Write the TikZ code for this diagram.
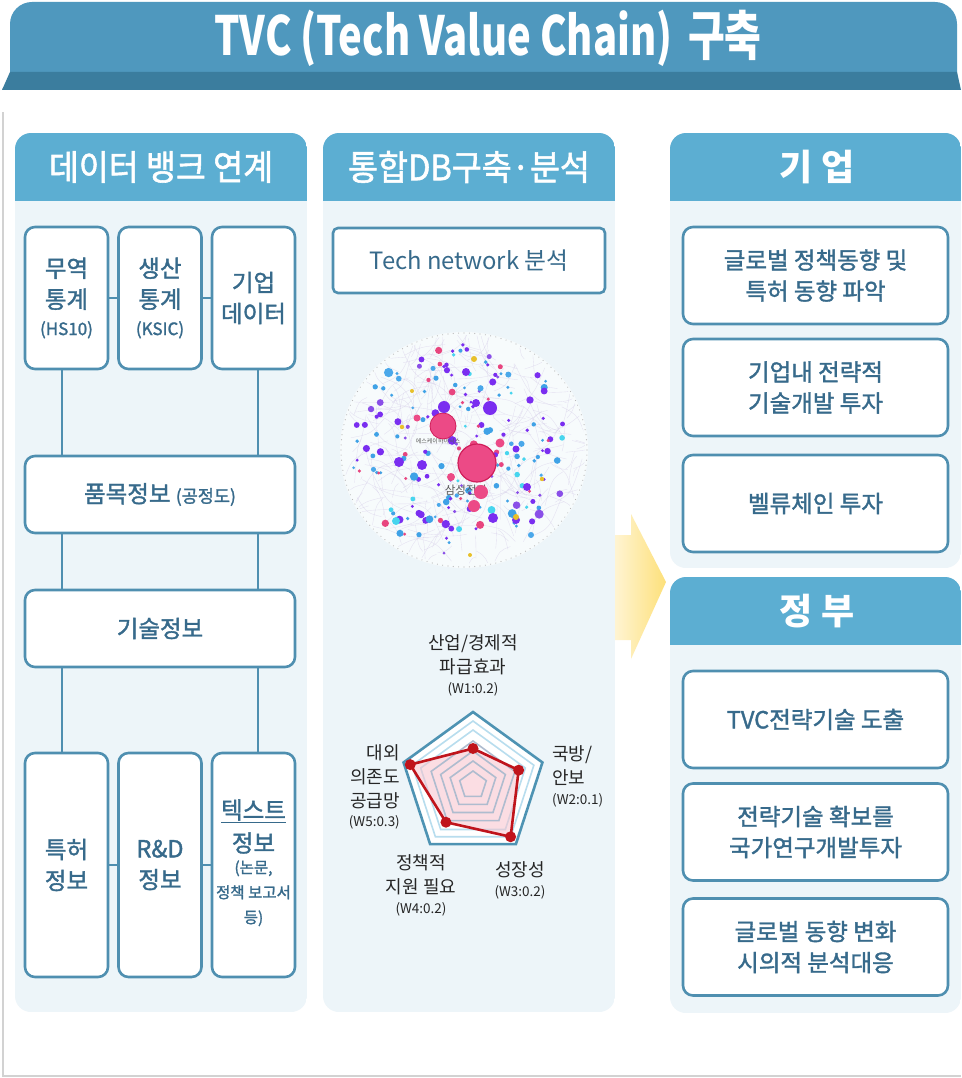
\documentclass[tikz,border=0pt]{standalone}
\usepackage{fontspec}
\setmainfont{Noto Sans CJK KR}
\newfontfamily\krm{Noto Sans CJK KR}[FakeBold=1.5]
\newfontfamily\krh{Noto Sans CJK KR}[FakeStretch=0.93,FakeBold=1.6]
\newcommand\wlabf{\fontsize{13.5}{16}\selectfont}
\usetikzlibrary{calc}
\definecolor{titlet}{HTML}{4F98BE}
\definecolor{titleb}{HTML}{3B7D9E}
\definecolor{headc}{HTML}{5CAED2}
\definecolor{bodyc}{HTML}{EDF5F9}
\definecolor{boxc}{HTML}{4F8FB0}
\definecolor{txtc}{HTML}{376A8B}
\definecolor{framec}{HTML}{D2D2D2}
\definecolor{arrowL}{HTML}{FFF4D2}
\definecolor{arrowR}{HTML}{FDE07A}
\definecolor{radarO}{HTML}{4E93B3}
\definecolor{radarL}{HTML}{B8DDEE}
\definecolor{radarG}{HTML}{AFBCCF}
\definecolor{redc}{HTML}{C0141C}
\definecolor{pinkf}{HTML}{F8C2CC}
\definecolor{edgec}{HTML}{D6CFEA}
\definecolor{nc0}{HTML}{7A2EF0}
\definecolor{nc1}{HTML}{7A2EF0}
\definecolor{nc2}{HTML}{3FA2E6}
\definecolor{nc3}{HTML}{3FA2E6}
\definecolor{nc4}{HTML}{4AA8EA}
\definecolor{nc5}{HTML}{47D5EE}
\definecolor{nc6}{HTML}{E8457F}
\definecolor{nc7}{HTML}{8A4FE8}
\definecolor{nc8}{HTML}{3FA2E6}
\definecolor{nc9}{HTML}{7A2EF0}
\definecolor{ncy}{HTML}{E8C02A}
\definecolor{pinkn}{HTML}{EC4A86}
\definecolor{pinkd}{HTML}{D01E5A}

\newcommand\pentpath[1]{({473+#1*cos(90)},{785-#1*sin(90)}) -- ({473+#1*cos(18)},{785-#1*sin(18)}) -- ({473+#1*cos(-54)},{785-#1*sin(-54)}) -- ({473+#1*cos(-126)},{785-#1*sin(-126)}) -- ({473+#1*cos(162)},{785-#1*sin(162)}) -- cycle}

\tikzset{
  box/.style={draw=boxc, line width=2.6pt, rounded corners=10pt, fill=white, align=center, text=txtc, inner sep=0pt, font=\krm\fontsize{23.5}{31}\selectfont},
  hdr/.style={text=white, inner sep=0pt, font=\krh\fontsize{35}{35}\selectfont},
  bighdr/.style={text=white, inner sep=0pt, font=\bfseries\fontsize{36}{36}\selectfont},
  conn/.style={draw=boxc, line width=2.6pt},
  rlab/.style={text=black!85, align=center, inner sep=0pt, font=\fontsize{18}{24}\selectfont},
  dot/.style={fill=redc, draw=none},
}

\begin{document}
\begin{tikzpicture}[x=1pt,y=-1pt]
\useasboundingbox (0,0) rectangle (961,1078);
\fill[white] (0,0) rectangle (961,1078);

% frame
\draw[framec, line width=1.5pt] (3,88) -- (3,1076) -- (961,1076);

% title bar
\fill[titlet, rounded corners=22pt] (10,2) rectangle (957,110);
\fill[white] (0,90) rectangle (961,112);
\fill[titleb] (2,90) -- (10,72) -- (957,72) -- (961,90) -- cycle;
\node[text=white, inner sep=0pt, font=\bfseries\fontsize{54}{54}\selectfont] (title) at (488,38) {\scalebox{0.74}[1]{TVC (Tech Value Chain) \,구축}};

% panels
\begin{scope}
\clip[rounded corners=16pt] (15,133) rectangle (307,1012);
\fill[bodyc] (15,133) rectangle (307,1012);
\fill[headc] (15,133) rectangle (307,201);
\end{scope}
\begin{scope}
\clip[rounded corners=16pt] (323,133) rectangle (615,1012);
\fill[bodyc] (323,133) rectangle (615,1012);
\fill[headc] (323,133) rectangle (615,201);
\end{scope}
\begin{scope}
\clip[rounded corners=16pt] (670,133) rectangle (961,568);
\fill[bodyc] (670,133) rectangle (961,568);
\fill[headc] (670,133) rectangle (961,201);
\end{scope}
\begin{scope}
\clip[rounded corners=16pt] (670,577) rectangle (961,1013);
\fill[bodyc] (670,577) rectangle (961,1013);
\fill[headc] (670,577) rectangle (961,645);
\end{scope}

% arrow
\shade[left color=arrowL, right color=arrowR] (615,535) -- (631,535) -- (631,514) -- (666,582) -- (631,659) -- (631,640) -- (615,640) -- cycle;

% headers
\node[hdr] (h1) at (161,167) {데이터 뱅크 연계};
\node[hdr] (h2) at (469,167) {통합DB구축·분석};
\node[bighdr] (h3) at (817,167) {기 업};
\node[bighdr] (h4) at (817,611) {정 부};

% left column boxes
\node[box, minimum width=83pt, minimum height=142pt] (m1) at (66.5,298) {무역\\통계\\[-4pt]{\fontsize{17}{20}\selectfont(HS10)}};
\node[box, minimum width=83pt, minimum height=142pt] (m2) at (160,298) {생산\\통계\\[-4pt]{\fontsize{17}{20}\selectfont(KSIC)}};
\node[box, minimum width=83pt, minimum height=142pt] (m3) at (253.5,298) {기업\\데이터};
\node[box, minimum width=270pt, minimum height=77pt] (p1) at (160,494.5) {품목정보 {\fontsize{17.5}{20}\selectfont(공정도)}};
\node[box, minimum width=270pt, minimum height=77pt] (p2) at (160,628.5) {기술정보};
\node[box, minimum width=83pt, minimum height=224pt] (b1) at (66.5,865) {특허\\정보};
\node[box, minimum width=83pt, minimum height=224pt] (b2) at (160,865) {R\&D\\정보};
\node[box, minimum width=83pt, minimum height=224pt] (b3) at (253.5,865) {\underline{텍스트}\\[2pt]정보\\[1pt]{\fontsize{15.5}{25}\selectfont\begin{tabular}{@{}c@{}}(논문,\\정책 보고서\\등)\end{tabular}}};

\draw[conn] (m1) -- (m2);
\draw[conn] (m2) -- (m3);
\draw[conn] (b1) -- (b2);
\draw[conn] (b2) -- (b3);
\draw[conn] ([xshift=-4.5pt]m1.south) -- ([xshift=-4.5pt]m1.south |- p1.north);
\draw[conn] ([xshift=4.5pt]m3.south) -- ([xshift=4.5pt]m3.south |- p1.north);
\draw[conn] ([xshift=-98pt]p1.south) -- ([xshift=-98pt]p2.north);
\draw[conn] ([xshift=98pt]p1.south) -- ([xshift=98pt]p2.north);
\draw[conn] ([xshift=-98pt]p2.south) -- ([xshift=-4.5pt]b1.north);
\draw[conn] ([xshift=98pt]p2.south) -- ([xshift=4.5pt]b3.north);

% middle column
\node[box, rounded corners=5pt, minimum width=272pt, minimum height=65pt, font=\fontsize{23.8}{26}\selectfont] (tn) at (469,260.5) {Tech network 분석};

% network graph
\fill[white, opacity=0.6] (464,450) ellipse [x radius=124, y radius=118];
\pgfmathsetseed{4321}
\begin{scope}
\clip (464,450) ellipse [x radius=121, y radius=115];
\foreach \i in {1,...,320}{
  \pgfmathsetmacro\aa{rnd*360}
  \pgfmathsetmacro\ra{sqrt(rnd)*115}
  \pgfmathsetmacro\dx{rnd*90-45}
  \pgfmathsetmacro\dy{rnd*90-45}
  \pgfmathsetmacro\xa{464+\ra*cos(\aa)}
  \pgfmathsetmacro\ya{450+0.95*\ra*sin(\aa)}
  \draw[edgec, line width=0.35pt, opacity=0.6] (\xa,\ya) .. controls ({\xa+\dx*0.6},{\ya+\dy*0.2}) .. ({\xa+\dx},{\ya+\dy});
}
\end{scope}
\foreach \a in {0,2.5,...,357.5}{
  \fill[gray!55] ({464+123*cos(\a)},{450+117*sin(\a)}) circle (0.6);
}
\foreach \i in {1,...,200}{
  \pgfmathsetmacro\aa{rnd*360}
  \pgfmathsetmacro\ra{sqrt(rnd)*112}
  \pgfmathtruncatemacro\ci{int(rnd*9.99)}
  \pgfmathsetmacro\sz{1.5+3.3*rnd*rnd}
  \fill[nc\ci] ({464+\ra*cos(\aa)},{450+0.95*\ra*sin(\aa)}) circle (\sz);
}
\fill[ncy] (402,427) circle (2.2);
\fill[ncy] (542,479) circle (2.2);
\fill[ncy] (412,391) circle (2);
\fill[ncy] (470,555) circle (2);
\node[text=gray!70!black, inner sep=0pt, font=\fontsize{6}{6}\selectfont] (lbl2) at (438,441) {에스케이하이닉스};
\node[text=gray!70!black, inner sep=0pt, font=\fontsize{11.5}{12}\selectfont] (lbl1) at (466,490) {삼성전자};
\fill[pinkn, draw=pinkd, line width=1.2pt] (477,463) circle (19);
\fill[pinkn, draw=pinkd, line width=0.8pt] (443,426) circle (13);
\fill[pinkn] (481,492) circle (7);
\fill[pinkn] (474,506) circle (6);
\fill[pinkn] (500,443) circle (4.5);
\fill[pinkn] (451,477) circle (4);
\fill[pinkn] (417,418) circle (3.5);
\fill[nc0] (490,408) circle (7);
\fill[nc0] (444,407) circle (6);
\fill[nc0] (399,462) circle (5);
\fill[nc0] (422,465) circle (5);
\fill[nc0] (493,518) circle (5);
\fill[nc0] (466,372) circle (4);
\fill[nc0] (476,403) circle (4);
\fill[nc0] (516,520) circle (4);
\fill[nc0] (527,487) circle (4);
\fill[nc0] (516,449) circle (3.5);
\fill[nc5] (396,521) circle (4);
\fill[ncy] (474,359) circle (3);
\fill[ncy] (516,517) circle (3);

% radar chart
\fill[white] \pentpath{73};
\draw[radarL, line width=1.6pt] \pentpath{64};
\draw[radarL, line width=1.6pt] \pentpath{55};
\fill[pinkf, opacity=0.55] ({473+36.5*cos(90)},{785-36.5*sin(90)}) -- ({473+48*cos(18)},{785-48*sin(18)}) -- ({473+64*cos(-54)},{785-64*sin(-54)}) -- ({473+46*cos(-126)},{785-46*sin(-126)}) -- ({473+66*cos(162)},{785-66*sin(162)}) -- cycle;
\draw[radarG, line width=1.6pt] \pentpath{44};
\draw[radarG, line width=1.6pt] \pentpath{34};
\draw[radarG, line width=1.6pt] \pentpath{24};
\draw[radarG, line width=1.6pt] \pentpath{14};
\draw[radarO, line width=2.6pt, line join=miter] \pentpath{73};
\draw[redc, line width=2.6pt, line join=round] ({473+36.5*cos(90)},{785-36.5*sin(90)}) -- ({473+48*cos(18)},{785-48*sin(18)}) -- ({473+64*cos(-54)},{785-64*sin(-54)}) -- ({473+46*cos(-126)},{785-46*sin(-126)}) -- ({473+66*cos(162)},{785-66*sin(162)}) -- cycle;
\fill[dot] ({473+36.5*cos(90)},{785-36.5*sin(90)}) circle (5.5);
\fill[dot] ({473+48*cos(18)},{785-48*sin(18)}) circle (5.5);
\fill[dot] ({473+64*cos(-54)},{785-64*sin(-54)}) circle (5.5);
\fill[dot] ({473+46*cos(-126)},{785-46*sin(-126)}) circle (5.5);
\fill[dot] ({473+66*cos(162)},{785-66*sin(162)}) circle (5.5);

\node[rlab] (w1) at (473,665) {산업/경제적\\파급효과\\[-4pt]{\wlabf (W1:0.2)}};
\node[rlab, align=left, anchor=west] (w2) at (552,776) {국방/\\안보\\[-4pt]{\wlabf (W2:0.1)}};
\node[rlab] (w3) at (520,880) {성장성\\[-4pt]{\wlabf (W3:0.2)}};
\node[rlab] (w4) at (421,885) {정책적\\지원 필요\\[-4pt]{\wlabf (W4:0.2)}};
\node[rlab, align=right, anchor=east] (w5) at (400,787) {대외\\의존도\\공급망\\[-5pt]{\wlabf (W5:0.3)}};

% right column
\node[box, minimum width=265pt, minimum height=97pt] (r1) at (815.5,275.5) {글로벌 정책동향 및\\특허 동향 파악};
\node[box, minimum width=265pt, minimum height=97pt] (r2) at (815.5,387.5) {기업내 전략적\\기술개발 투자};
\node[box, minimum width=265pt, minimum height=97pt] (r3) at (815.5,503.5) {벨류체인 투자};
\node[box, minimum width=265pt, minimum height=97pt] (g1) at (815.5,719.5) {TVC전략기술 도출};
\node[box, minimum width=265pt, minimum height=97pt] (g2) at (815.5,832) {전략기술 확보를\\국가연구개발투자};
\node[box, minimum width=265pt, minimum height=97pt] (g3) at (815.5,947) {글로벌 동향 변화\\시의적 분석대응};
\end{tikzpicture}
\end{document}
